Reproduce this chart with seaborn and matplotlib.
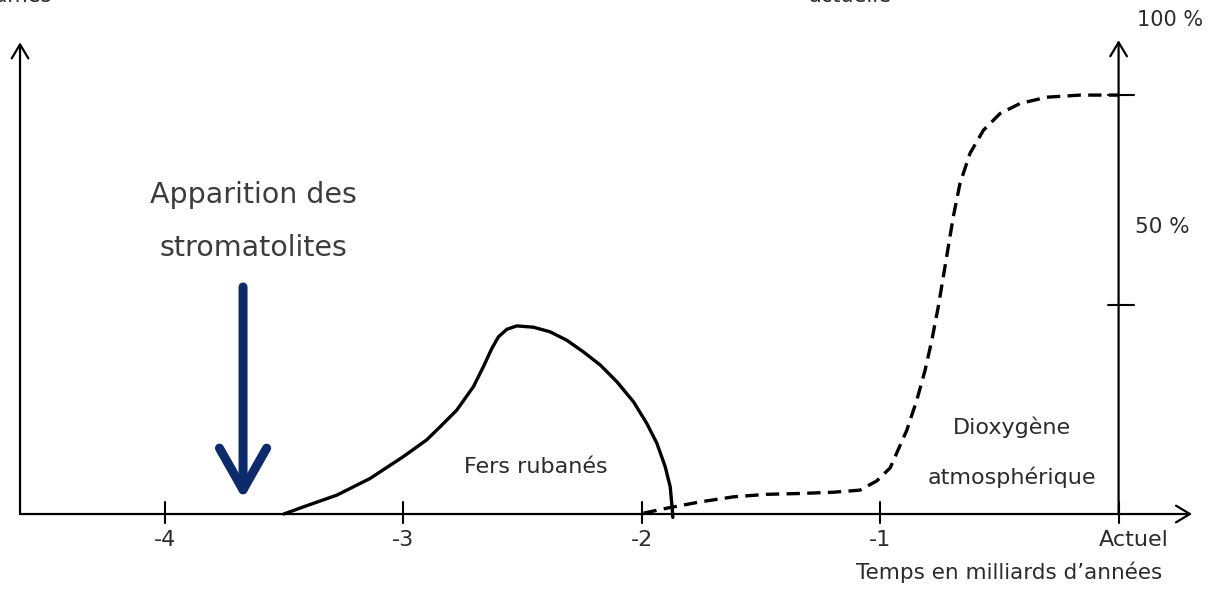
import matplotlib
matplotlib.use("Agg")
import matplotlib.pyplot as plt
import seaborn as sns
import pandas as pd

# courbe des fers rubanés (trait plein)
fer_t = [-3.500, -3.418, -3.278, -3.138, -2.999, -2.901, -2.845, -2.775, -2.705,
         -2.663, -2.628, -2.600, -2.565, -2.523, -2.454, -2.384, -2.314, -2.244,
         -2.174, -2.104, -2.034, -1.978, -1.936, -1.901, -1.880, -1.871, -1.869]
fer_v = [0.0, 1.7, 4.5, 8.5, 13.7, 17.7, 20.8, 24.8, 30.4,
         35.2, 39.5, 42.3, 44.1, 44.9, 44.6, 43.5, 41.5, 38.7,
         35.6, 31.6, 26.8, 21.6, 16.9, 11.3, 6.5, 1.0, -0.8]

# dioxygène atmosphérique (pointillés), en % de la teneur actuelle
o2_t = [-1.992, -1.894, -1.754, -1.615, -1.475, -1.335, -1.196, -1.084, -1.014,
        -0.958, -0.888, -0.846, -0.811, -0.783, -0.756, -0.735, -0.714, -0.693,
        -0.665, -0.623, -0.567, -0.497, -0.413, -0.301, -0.161, 0.0]
o2_v = [0.2, 1.4, 2.9, 4.1, 4.7, 4.9, 5.2, 5.7, 7.9,
        11.0, 20.0, 27.2, 34.4, 41.5, 49.5, 56.6, 63.8, 71.0,
        78.9, 86.1, 91.6, 95.6, 98.0, 99.5, 100.0, 100.0]

tick_pos = [-4, -3, -2, -1, 0]
tick_lab = ["-4", "-3", "-2", "-1", "Actuel"]
pct_pos = [50, 100]
pct_lab = ["50 %", "100 %"]

sns.set_style("white")
plt.rcParams["font.family"] = ["DejaVu Sans"]

fig = plt.figure(figsize=(12.14, 5.89), dpi=100)
ax = fig.add_axes([0, 0, 1, 1])
ax.set_xlim(-4.690, 0.400)
ax.set_ylim(-17.9, 122.7)
ax.axis("off")

fer = pd.DataFrame({"t": fer_t, "v": fer_v})
o2 = pd.DataFrame({"t": o2_t, "v": o2_v})
sns.lineplot(data=fer, x="t", y="v", sort=False, estimator=None,
             color="black", lw=2.4, ax=ax)
sns.lineplot(data=o2, x="t", y="v", sort=False, estimator=None,
             color="black", lw=2.4, linestyle=(0, (4.0, 2.2)), ax=ax)

# axes dessinés à la main (flèches)
axis_arrow = dict(arrowstyle="->,head_length=1.0,head_width=0.6", lw=1.6,
                  color="black", mutation_scale=10, shrinkA=0, shrinkB=0)
ax.annotate("", xy=(0.308, 0), xytext=(-4.606, 0), arrowprops=axis_arrow)
ax.annotate("", xy=(-4.606, 112.6), xytext=(-4.606, 0), arrowprops=axis_arrow)
ax.annotate("", xy=(0, 113.1), xytext=(0, 0), arrowprops=axis_arrow)

tc = "#2b2b2b"
for p, lab in zip(tick_pos, tick_lab):
    ax.plot([p, p], [2.8, -2.2], color="black", lw=1.5)
    dx = 0.063 if lab == "Actuel" else 0
    ax.text(p + dx, -6.2, lab, ha="center", va="center", fontsize=16, color=tc)
for p, lab in zip(pct_pos, pct_lab):
    ax.plot([-0.046, 0.063], [p, p], color="black", lw=1.5)
ax.text(0.216, 117.9, pct_lab[1], ha="center", va="center", fontsize=15, color=tc)
ax.text(0.183, 68.5, pct_lab[0], ha="center", va="center", fontsize=15.5, color=tc)

ax.text(0.183, -13.8, "Temps en milliards d’années", ha="right", va="center",
        fontsize=15.5, color=tc)
ax.text(-2.444, 11.2, "Fers rubanés", ha="center", va="center", fontsize=16, color=tc)
ax.text(-0.446, 20.8, "Dioxygène", ha="center", va="center", fontsize=16, color=tc)
ax.text(-0.446, 8.8, "atmosphérique", ha="center", va="center", fontsize=16, color=tc)

ax.text(-3.629, 76.1, "Apparition des", ha="center", va="center", fontsize=20.5,
        color="#3c3c3c")
ax.text(-3.629, 63.5, "stromatolites", ha="center", va="center", fontsize=20.5,
        color="#3c3c3c")
ax.annotate("", xy=(-3.671, 3.6), xytext=(-3.671, 54.2),
            arrowprops=dict(arrowstyle="->,head_length=1.5,head_width=0.85", lw=6.5,
                            color="#0d2a6b", mutation_scale=20,
                            shrinkA=0, shrinkB=0))

# textes coupés en haut de l'image
fig.text(52 / 1214, 1 - 2.5 / 589, "Volumes", ha="right", va="baseline",
         fontsize=15, color=tc)
fig.text(850 / 1214, 1 - 2.5 / 589, "actuelle", ha="center", va="baseline",
         fontsize=15, color=tc)

fig.savefig("out.png", dpi=100)
